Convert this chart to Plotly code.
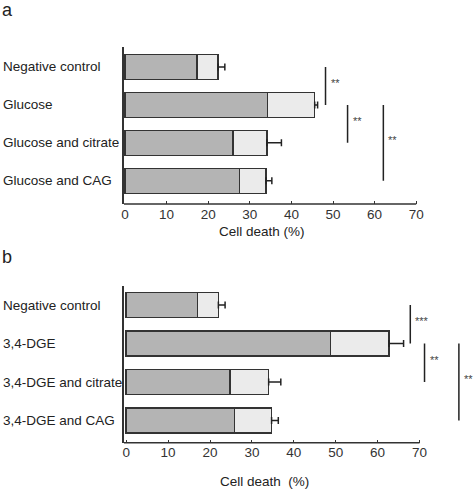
import plotly.graph_objects as go
from plotly.subplots import make_subplots

# ---- data ----
categories_a = ["Negative control", "Glucose", "Glucose and citrate", "Glucose and CAG"]
dark_a = [17.3, 34.2, 25.9, 27.5]
total_a = [22.4, 45.6, 34.1, 33.9]
err_a = [1.6, 0.7, 3.5, 1.4]

categories_b = ["Negative control", "3,4-DGE", "3,4-DGE and citrate", "3,4-DGE and CAG"]
dark_b = [17.0, 48.7, 24.8, 25.8]
total_b = [22.0, 62.7, 34.0, 34.7]
err_b = [1.6, 3.5, 2.9, 1.6]

tick_vals = [0, 10, 20, 30, 40, 50, 60, 70]
x_title_a = "Cell death (%)"
x_title_b = "Cell death  (%)"

# significance brackets: (from category index, to category index, x value, label)
sig_a = [(0, 1, 48.2, "**"), (1, 2, 53.5, "**"), (1, 3, 62.1, "**")]
sig_b = [(0, 1, 67.8, "***"), (1, 2, 71.2, "**"), (1, 3, 79.4, "**")]

# ---- styles ----
FONT = "Liberation Sans, Arial, sans-serif"
DARK = "#b4b4b4"
LIGHT = "#ebebeb"
EDGE = "#333333"
W, H = 475, 491
L_M, R_M = 124, 4
RANGE_A = [-0.24, 83.17]
RANGE_B = [-0.525, 82.29]

fig = make_subplots(rows=2, cols=1)


def add_panel(row, cats, dark, total, err, sig, xr):
    sfx = "" if row == 1 else str(row)
    light = [t - d for t, d in zip(total, dark)]
    fig.add_trace(go.Bar(y=cats, x=dark, orientation="h", marker=dict(color=DARK, line=dict(color=EDGE, width=1.5)),
                         width=0.66, showlegend=False), row=row, col=1)
    fig.add_trace(go.Bar(y=cats, x=light, orientation="h", marker=dict(color=LIGHT, line=dict(color=EDGE, width=1.5)),
                         width=0.66, showlegend=False), row=row, col=1)
    fig.add_trace(go.Scatter(y=cats, x=total, mode="markers", marker=dict(size=1, opacity=0),
                             error_x=dict(type="data", array=err, arrayminus=[0] * len(err), symmetric=False,
                                          color="#222222", thickness=1.5, width=3.5),
                             showlegend=False, hoverinfo="skip"), row=row, col=1)
    for (i0, i1, xv, lab) in sig:
        fig.add_trace(go.Scatter(y=[cats[i0], cats[i1]], x=[xv, xv], mode="lines",
                                 line=dict(color="#222222", width=1.5), showlegend=False, hoverinfo="skip"),
                      row=row, col=1)
        fig.add_annotation(x=xv, y=(i0 + i1) / 2, xref="x" + sfx, yref="y" + sfx, text=lab, showarrow=False,
                           xanchor="left", yanchor="middle", xshift=3, yshift=3,
                           font=dict(family=FONT, size=11, color="#444444"))
    for c in cats:
        fig.add_annotation(x=(1 - L_M) / (W - L_M - R_M), xref="paper", y=c, yref="y" + sfx, text=c,
                           showarrow=False, xanchor="left", yanchor="middle",
                           font=dict(family=FONT, size=13.5, color="#222222"))
    # x axis line only spanning 0..70
    fig.add_shape(type="line", xref="x" + sfx + " domain", yref="y" + sfx + " domain",
                  x0=0, x1=(tick_vals[-1] - xr[0]) / (xr[1] - xr[0]), y0=0, y1=0,
                  line=dict(color=EDGE, width=1.5))


add_panel(1, categories_a, dark_a, total_a, err_a, sig_a, RANGE_A)
add_panel(2, categories_b, dark_b, total_b, err_b, sig_b, RANGE_B)

xaxis_common = dict(showline=False, ticks="inside", ticklen=3, tickwidth=1.2,
                    tickcolor=EDGE, tickvals=tick_vals, showgrid=False, zeroline=False,
                    tickfont=dict(family=FONT, size=13.5, color="#333333"), domain=[0, 1])
yaxis_common = dict(showline=True, linecolor=EDGE, linewidth=1.5, showticklabels=False, ticks="",
                    showgrid=False, zeroline=False)

fig.update_layout(
    width=W, height=H, margin=dict(l=L_M, r=R_M, t=0, b=0),
    paper_bgcolor="white", plot_bgcolor="white", barmode="stack",
    xaxis=dict(xaxis_common, range=RANGE_A),
    xaxis2=dict(xaxis_common, range=RANGE_B),
    yaxis=dict(yaxis_common, domain=[1 - 204 / H, 1 - 47.3 / H], range=[3.612, -0.519]),
    yaxis2=dict(yaxis_common, domain=[1 - 442.7 / H, 1 - 286 / H], range=[3.577, -0.494]),
)

# axis titles
fig.add_annotation(x=33, xref="x", y=1 - 232 / H, yref="paper", text=x_title_a, showarrow=False,
                   xanchor="center", yanchor="middle", font=dict(family=FONT, size=13.5, color="#222222"))
fig.add_annotation(x=33, xref="x2", y=1 - 481.5 / H, yref="paper", text=x_title_b, showarrow=False,
                   xanchor="center", yanchor="middle", font=dict(family=FONT, size=13.5, color="#222222"))
# panel labels
fig.add_annotation(x=(0 - L_M) / (W - L_M - R_M), xref="paper", y=1 - 10 / H, yref="paper", text="a",
                   showarrow=False, xanchor="left", yanchor="middle", font=dict(family=FONT, size=18, color="#222222"))
fig.add_annotation(x=(0 - L_M) / (W - L_M - R_M), xref="paper", y=1 - 257 / H, yref="paper", text="b",
                   showarrow=False, xanchor="left", yanchor="middle", font=dict(family=FONT, size=18, color="#222222"))

fig.write_html("out.html", config={"displayModeBar": False},
               post_script="document.body.style.margin='0';document.body.style.padding='0';")
